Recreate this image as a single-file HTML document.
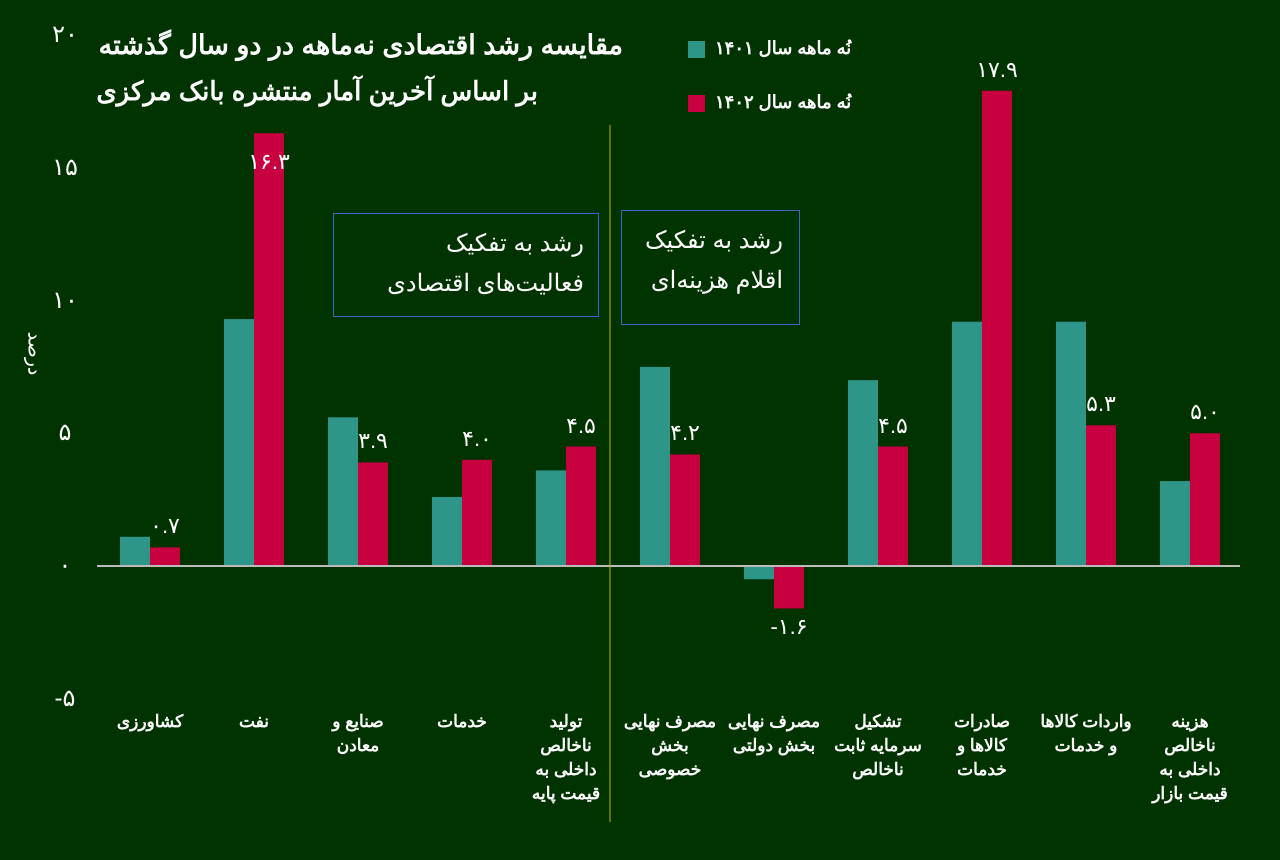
<!DOCTYPE html>
<html><head><meta charset="utf-8"><style>
body{margin:0;background:#003300;}
#c{position:relative;width:1280px;height:860px;background:#013301;overflow:hidden;font-family:"Liberation Sans","Noto Sans CJK SC",sans-serif;color:#fff}
.t{position:absolute;white-space:nowrap}
</style></head><body>
<div id="c">
<div class="t" style="right:657px;top:30px;font-size:27px;font-weight:bold;direction:rtl">مقایسه رشد اقتصادی نه‌ماهه در دو سال گذشته</div>
<div class="t" style="right:742px;top:76px;font-size:26px;font-weight:bold;direction:rtl">بر اساس آخرین آمار منتشره بانک مرکزی</div>
<div class="t" style="left:688px;top:38px;font-size:18px;font-weight:bold"><span style="display:inline-block;width:17px;height:17px;background:#2e9688;vertical-align:middle;margin-right:10px"></span><span style="direction:rtl;unicode-bidi:embed">نُه ماهه سال ۱۴۰۱</span></div>
<div class="t" style="left:688px;top:92px;font-size:18px;font-weight:bold"><span style="display:inline-block;width:17px;height:17px;background:#c80040;vertical-align:middle;margin-right:10px"></span><span style="direction:rtl;unicode-bidi:embed">نُه ماهه سال ۱۴۰۲</span></div>
<div class="t" style="left:12px;top:342px;font-size:19px;transform:rotate(90deg)">درصد</div>
<div style="position:absolute;left:333px;top:213px;width:266px;height:104px;border:1px solid #3a66c8;box-sizing:border-box;direction:rtl;text-align:right;padding:10px 14px;font-size:24px;line-height:40px">رشد به تفکیک<br>فعالیت‌های اقتصادی</div>
<div style="position:absolute;left:621px;top:210px;width:179px;height:115px;border:1px solid #3a66c8;box-sizing:border-box;direction:rtl;text-align:right;padding:10px 16px;font-size:24px;line-height:40px">رشد به تفکیک<br>اقلام هزینه‌ای</div>
<svg id="s" width="1280" height="860" style="position:absolute;left:0;top:0"></svg>
</div>
<script>
const categories=["کشاورزی","نفت","صنایع و<br>معادن","خدمات","تولید<br>ناخالص<br>داخلی به<br>قیمت پایه","مصرف نهایی<br>بخش<br>خصوصی","مصرف نهایی<br>بخش دولتی","تشکیل<br>سرمایه ثابت<br>ناخالص","صادرات<br>کالاها و<br>خدمات","واردات کالاها<br>و خدمات","هزینه<br>ناخالص<br>داخلی به<br>قیمت بازار"];
const values1401=[1.1,9.3,5.6,2.6,3.6,7.5,-0.5,7.0,9.2,9.2,3.2];
const values1402=[0.7,16.3,3.9,4.0,4.5,4.2,-1.6,4.5,17.9,5.3,5.0];
const yTicks=[20,15,10,5,0,-5];
const fa=s=>String(s).replace(/\d/g,d=>"۰۱۲۳۴۵۶۷۸۹"[d]);
const svg=document.getElementById('s'),c=document.getElementById('c');
const NS="http://www.w3.org/2000/svg";
const y=v=>566-v*26.55;
const xc=i=>150+i*104;
function el(t,a){const e=document.createElementNS(NS,t);for(const k in a)e.setAttribute(k,a[k]);svg.appendChild(e);return e;}
yTicks.forEach(v=>{const d=document.createElement('div');d.className='t';


d.style.cssText=`left:40px;width:50px;text-align:center;top:${y(v)-15}px;font-size:24px`;d.textContent=fa(v);c.appendChild(d);});
categories.forEach((cat,i)=>{
const a=values1401[i],b=values1402[i];
const r1=el('rect',{x:xc(i)-30,y:Math.min(y(a),y(0)),width:30,height:Math.abs(y(a)-y(0)),fill:'#2e9688'});


const r2=el('rect',{x:xc(i),y:Math.min(y(b),y(0)),width:30,height:Math.abs(y(b)-y(0)),fill:'#c80040'});


const l=document.createElement('div');l.className='t';


let ty=b>=0?y(b)-34:y(b)+6;
if(b>=0&&ty<118&&xc(i)<600)ty=y(b)+16;
l.style.cssText=`left:${xc(i)-15}px;width:60px;text-align:center;top:${ty}px;font-size:22px`;l.textContent=fa(b.toFixed(1));c.appendChild(l);
const cl=document.createElement('div');cl.className='t';


cl.style.cssText=`left:${xc(i)-55}px;width:110px;text-align:center;top:710px;font-size:17px;font-weight:bold;line-height:24px;direction:rtl`;cl.innerHTML=cat;c.appendChild(cl);
});
const z=el('line',{x1:97,x2:1240,y1:y(0),y2:y(0),stroke:'#bbbbbb','stroke-width':2});


const sp=el('line',{x1:610,x2:610,y1:125,y2:822,stroke:'#c8b400','stroke-width':1});


</script>
</body></html>
